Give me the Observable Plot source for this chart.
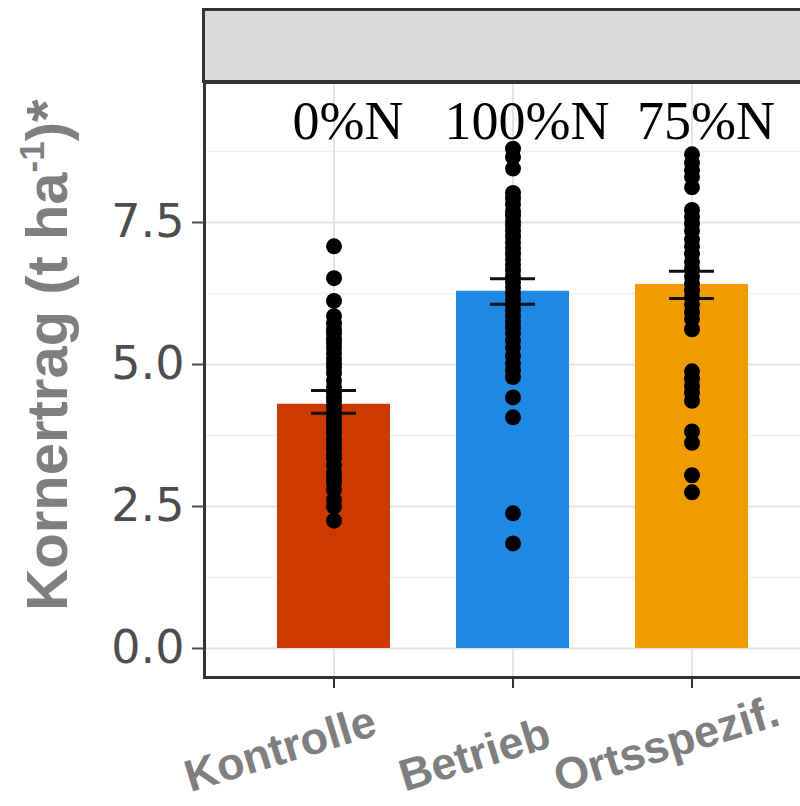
<!DOCTYPE html>
<html>
<head>
<meta charset="utf-8">
<script src="https://cdn.jsdelivr.net/npm/d3@7"></script>
<script src="https://cdn.jsdelivr.net/npm/@observablehq/plot@0.6"></script>
<style>
  html, body { margin: 0; padding: 0; background: white; overflow: hidden; }
  #chart { width: 800px; height: 806px; }
</style>
</head>
<body>
<div id="chart"></div>
<script>
// ---- data ----
const categories = ["Kontrolle", "Betrieb", "Ortsspezif."];
const nLabels = ["0%N", "100%N", "75%N"];
const means = [4.30, 6.29, 6.41];
const seLow = [4.14, 6.06, 6.16];
const seHigh = [4.54, 6.51, 6.64];
const barColors = ["#CC3A00", "#1E88E5", "#F09C00"];
const kontrollePts = [7.08, 6.52, 6.12, 5.85, 5.72, 5.62, 5.55, 5.45, 5.38, 5.30, 5.20, 5.10, 5.02, 4.95, 4.85, 4.72, 4.60, 4.50, 4.42, 4.35, 4.25, 4.15, 4.05, 3.98, 3.90, 3.80, 3.70, 3.62, 3.52, 3.42, 3.35, 3.22, 3.10, 3.00, 2.92, 2.80, 2.62, 2.50, 2.25];
const betriebPts = [8.80, 8.65, 8.45, 8.02, 7.92, 7.82, 7.70, 7.62, 7.52, 7.45, 7.35, 7.25, 7.15, 7.05, 6.95, 6.85, 6.75, 6.65, 6.55, 6.45, 6.35, 6.25, 6.15, 6.05, 5.95, 5.85, 5.75, 5.65, 5.55, 5.42, 5.30, 5.15, 5.02, 4.90, 4.78, 4.42, 4.07, 2.38, 1.85];
const ortsPts = [8.70, 8.55, 8.42, 8.30, 8.12, 7.72, 7.60, 7.48, 7.35, 7.20, 7.08, 6.95, 6.80, 6.68, 6.55, 6.42, 6.30, 6.18, 6.05, 5.92, 5.80, 5.62, 4.88, 4.75, 4.62, 4.50, 4.36, 3.82, 3.62, 3.05, 2.75];
const yTicks = [0, 2.5, 5.0, 7.5];
const yMinor = [1.25, 3.75, 6.25, 8.75];
const yLabel = "Kornertrag (t ha";
const yLabelSup = "-1";
const yLabelEnd = ")*";

// ---- tables ----
const bars = categories.map((c, i) => ({cat: c, mean: means[i], lo: seLow[i], hi: seHigh[i], label: nLabels[i]}));
const ptsByCat = [kontrollePts, betriebPts, ortsPts];
const points = ptsByCat.flatMap((arr, i) => arr.map(v => ({cat: categories[i], v})));

// per-label placement of the rotated category labels (style, not data)
const labelOffset = {"Kontrolle": [45, 57], "Betrieb": [40, 69], "Ortsspezif.": [90, 47]};

const W = 800, H = 806;
const mL = 204, mT = 82, mB = 129;

const plot = Plot.plot({
  width: W,
  height: H,
  marginLeft: mL,
  marginRight: 0,
  marginTop: mT,
  marginBottom: mB,
  style: {background: "white", overflow: "visible"},
  x: {type: "band", domain: categories, range: [243, 782], padding: 0, axis: null},
  y: {domain: [-0.511, 9.965], axis: null},
  color: {domain: categories, range: barColors},
  marks: [
    Plot.ruleY(yMinor, {stroke: "#efefef", strokeWidth: 1.5}),
    Plot.ruleY(yTicks, {stroke: "#e4e4e4", strokeWidth: 2}),
    Plot.ruleX(categories, {x: d => d, stroke: "#e4e4e4", strokeWidth: 2}),
    Plot.barY(bars, {x: "cat", y: "mean", fill: "cat", insetLeft: 33, insetRight: 33}),
    Plot.ruleX(bars, {x: "cat", y1: "lo", y2: "hi", stroke: "black", strokeWidth: 2}),
    Plot.tickY(bars, {x: "cat", y: "lo", stroke: "#111", strokeWidth: 3, insetLeft: 67, insetRight: 67}),
    Plot.tickY(bars, {x: "cat", y: "hi", stroke: "#111", strokeWidth: 3, insetLeft: 67, insetRight: 67}),
    Plot.dot(points, {x: "cat", y: "v", r: 8, fill: "black", stroke: null}),
    Plot.text(bars, {x: "cat", text: "label", frameAnchor: "top", lineAnchor: "bottom", dy: 56, dx: 14,
      fontSize: 54, fontFamily: "Liberation Serif, Times New Roman, serif", fill: "black"}),
    Plot.frame({stroke: "#333", strokeWidth: 3, insetRight: -20}),
    Plot.axisY(yTicks, {tickFormat: d3.format(".1f"), fontSize: 46, tickSize: 12, tickPadding: 8,
      color: "#4d4d4d", strokeWidth: 2, label: null, fontFamily: "DejaVu Sans, sans-serif"}),
    Plot.axisX({text: null, tickSize: 11, stroke: "#333", strokeWidth: 2, label: null}),
    ...categories.map(c => Plot.text([c], {x: d => d, text: d => d, frameAnchor: "bottom",
      dx: labelOffset[c][0], dy: labelOffset[c][1],
      textAnchor: "end", lineAnchor: "bottom", rotate: -17, fontSize: 45, fontWeight: "bold",
      fontFamily: "Liberation Sans, Arial, sans-serif", fill: "#7f7f7f"}))
  ]
});

const svg = d3.select(plot);
// facet strip above the panel
svg.append("rect")
  .attr("x", 203.5).attr("y", 9.5)
  .attr("width", 640).attr("height", 72)
  .attr("fill", "#d9d9d9").attr("stroke", "#333").attr("stroke-width", 3);

// y-axis title
const t = svg.append("text")
  .attr("transform", "translate(67,355) rotate(-90)")
  .attr("text-anchor", "middle")
  .attr("font-family", "Liberation Sans, Arial, sans-serif")
  .attr("font-weight", "bold")
  .attr("font-size", 58)
  .attr("fill", "#7f7f7f");
t.append("tspan").text(yLabel);
t.append("tspan").attr("font-size", 35).attr("dy", -23).text(yLabelSup);
t.append("tspan").attr("dy", 23).text(yLabelEnd);

document.getElementById("chart").appendChild(plot);
</script>
</body>
</html>
